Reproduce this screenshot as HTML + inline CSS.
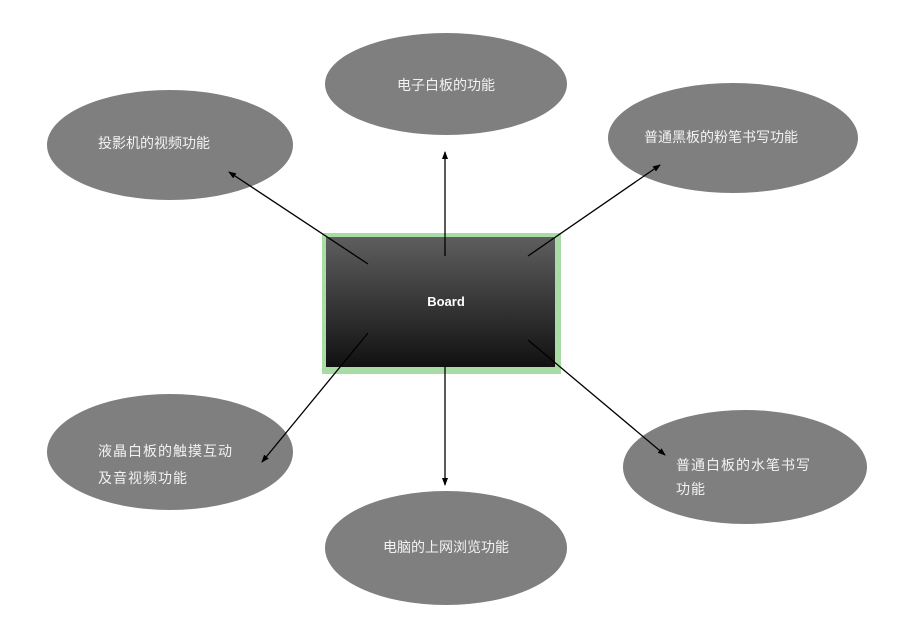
<!DOCTYPE html>
<html><head><meta charset="utf-8"><style>
html,body{margin:0;padding:0;background:#fff;width:914px;height:617px;overflow:hidden}
svg text{font-family:"Liberation Sans","Noto Sans CJK SC",sans-serif;fill:#f2f2f2;font-size:14px}
</style></head><body>
<svg width="914" height="617" xmlns="http://www.w3.org/2000/svg">
<defs>
<linearGradient id="g" x1="0" y1="0" x2="0" y2="1">
<stop offset="0" stop-color="#5e5e5e"/><stop offset="1" stop-color="#111"/></linearGradient>
<marker id="a" markerWidth="8" markerHeight="8" refX="7" refY="4" orient="auto" markerUnits="userSpaceOnUse">
<path d="M0,1 L8,4 L0,7 z" fill="#000"/></marker>
</defs>
<g fill="#7f7f7f">
<ellipse cx="446" cy="84" rx="121" ry="51"/>
<ellipse cx="170" cy="145" rx="123" ry="55"/>
<ellipse cx="733" cy="138" rx="125" ry="55"/>
<ellipse cx="170" cy="452" rx="123" ry="58"/>
<ellipse cx="745" cy="467" rx="122" ry="57"/>
<ellipse cx="446" cy="548" rx="121" ry="57"/>
</g>
<rect x="322" y="233" width="239" height="141" fill="#a8dca4"/>
<rect x="326" y="237" width="229" height="130" fill="url(#g)"/>
<text x="446" y="306" text-anchor="middle" style="font-weight:bold;font-size:13px;fill:#fff">Board</text>
<g stroke="#000" stroke-width="1.3" marker-end="url(#a)">
<line x1="368" y1="264" x2="229" y2="172"/>
<line x1="445" y1="256" x2="445" y2="152"/>
<line x1="528" y1="256" x2="660" y2="165"/>
<line x1="368" y1="333" x2="262" y2="462"/>
<line x1="445" y1="366" x2="445" y2="485"/>
<line x1="528" y1="340" x2="665" y2="455"/>
</g>
<text x="446" y="90" text-anchor="middle">电子白板的功能</text>
<text x="98" y="148">投影机的视频功能</text>
<text x="644" y="142">普通黑板的粉笔书写功能</text>
<text x="98" y="456" letter-spacing="1">液晶白板的触摸互动</text>
<text x="98" y="483" letter-spacing="1">及音视频功能</text>
<text x="676" y="470" letter-spacing="1">普通白板的水笔书写</text>
<text x="676" y="494" letter-spacing="1">功能</text>
<text x="446" y="552" text-anchor="middle">电脑的上网浏览功能</text>
</svg>
</body></html>
